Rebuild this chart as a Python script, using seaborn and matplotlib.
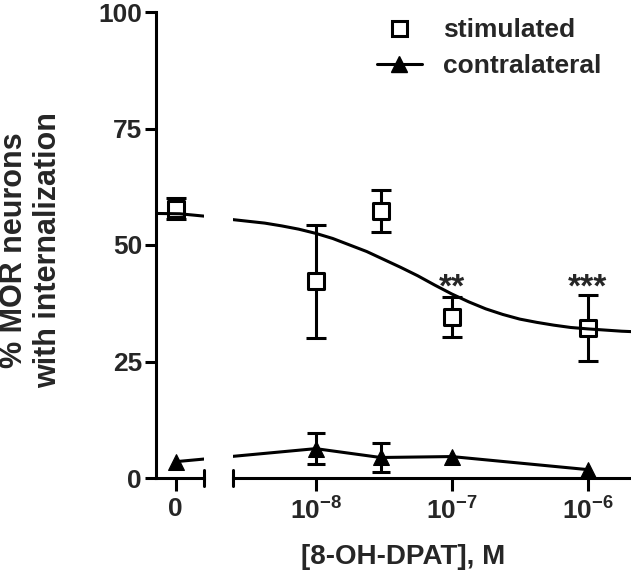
import pandas as pd
import matplotlib
matplotlib.use("Agg")
import matplotlib.pyplot as plt
import seaborn as sns
from matplotlib.lines import Line2D
from matplotlib.ticker import NullLocator

# data (x = 0 is the vehicle / no drug point)
stim_conc = [0, 1e-8, 3e-8, 1e-7, 1e-6]
stim_mean = [57.8, 42.2, 57.2, 34.6, 32.2]
stim_err = [2.3, 12.1, 4.5, 4.3, 7.1]

contra_conc = [0, 1e-8, 3e-8, 1e-7, 1e-6]
contra_mean = [3.5, 6.3, 4.4, 4.6, 1.8]
contra_err = [0, 3.3, 3.1, 0, 0]

# fitted curve for stimulated side (log10 M, %)
curve_logx = [-9.25, -9.0, -8.75, -8.625, -8.5, -8.375, -8.25, -8.125, -8.0,
              -7.875, -7.75, -7.625, -7.5, -7.375, -7.25, -7.125, -7.0,
              -6.875, -6.75, -6.625, -6.5, -6.375, -6.25, -6.125, -6.0,
              -5.75, -5.5]
curve_y = [56.8, 56.7, 56.0, 55.5, 55.1, 54.7, 54.1, 53.4, 52.5,
           51.4, 50.0, 48.6, 46.9, 45.2, 43.4, 41.4, 39.5,
           37.8, 36.3, 35.1, 34.1, 33.4, 32.8, 32.3, 32.0,
           31.5, 31.2]

xticks_lab = [r"$\mathbf{10^{-8}}$", r"$\mathbf{10^{-7}}$", r"$\mathbf{10^{-6}}$"]

# where "0" sits on the log axis (left of the break)
ZERO_POS = 10 ** -9.03

sns.set_style("ticks")
plt.rcParams["font.family"] = ["Liberation Sans", "DejaVu Sans"]
plt.rcParams["font.weight"] = "bold"
plt.rcParams["mathtext.fontset"] = "custom"
plt.rcParams["mathtext.bf"] = "Liberation Sans:bold"
plt.rcParams["mathtext.rm"] = "Liberation Sans:bold"
plt.rcParams["axes.linewidth"] = 2.2
plt.rcParams["axes.edgecolor"] = "black"

LW = 2.2


def xpos(c):
    return ZERO_POS if c == 0 else c


stim = pd.DataFrame({"x": [xpos(c) for c in stim_conc], "y": stim_mean, "err": stim_err})
contra = pd.DataFrame({"x": [xpos(c) for c in contra_conc], "y": contra_mean, "err": contra_err})
curve = pd.DataFrame({"x": [10 ** v for v in curve_logx], "y": curve_y})

fig = plt.figure(figsize=(6.31, 5.79), dpi=100)
ax_l = fig.add_axes([156 / 631, 101 / 579, 48 / 631, 466 / 579])
ax_r = fig.add_axes([233 / 631, 101 / 579, 398 / 631, 466 / 579], sharey=ax_l)

for ax in (ax_l, ax_r):
    ax.set_xscale("log")
    se = stim[stim["err"] > 0]
    ax.errorbar(se["x"], se["y"], yerr=se["err"], fmt="none", ecolor="black",
                elinewidth=LW, capsize=7, capthick=LW, zorder=2)
    sns.scatterplot(data=stim, x="x", y="y", marker="s", s=117, facecolor="white",
                    edgecolor="black", linewidth=LW, ax=ax, zorder=3)
    sns.lineplot(data=curve, x="x", y="y", color="black", lw=LW, estimator=None,
                 ax=ax, zorder=4)
    ce = contra[contra["err"] > 0]
    ax.errorbar(ce["x"], ce["y"], yerr=ce["err"], fmt="none", ecolor="black",
                elinewidth=LW, capsize=6.5, capthick=LW, zorder=2)
    sns.lineplot(data=contra, x="x", y="y", color="black", lw=LW, marker="^",
                 markersize=12, markeredgecolor="black", estimator=None, ax=ax, zorder=3)
    ax.set_xlabel("")
    ax.set_ylabel("")
    ax.xaxis.set_minor_locator(NullLocator())
    ax.spines["top"].set_visible(False)
    ax.spines["right"].set_visible(False)
    ax.tick_params(axis="x", length=9, width=LW, labelsize=19, pad=5, color="black")

ax_l.set_xlim(10 ** -9.174, 10 ** -8.821)
ax_r.set_xlim(10 ** -8.608, 10 ** -5.682)
ax_l.set_ylim(0, 100)
ax_l.set_yticks([0, 25, 50, 75, 100])
ax_l.tick_params(axis="y", length=8, width=LW, labelsize=19, pad=2, color="black")
ax_l.set_xticks([ZERO_POS])
ax_l.set_xticklabels(["0"])
ax_r.set_xticks([1e-8, 1e-7, 1e-6])
ax_r.set_xticklabels(xticks_lab)
ax_r.spines["left"].set_visible(False)
ax_r.tick_params(axis="y", left=False, labelleft=False)

# end caps at the axis break
ax_l.axvline(ax_l.get_xlim()[1], ymin=-0.018, ymax=0.018, clip_on=False, color="black", lw=LW)
ax_r.axvline(ax_r.get_xlim()[0], ymin=-0.018, ymax=0.018, clip_on=False, color="black", lw=LW)

# significance marks
ax_r.text(1e-7, 39.0, "**", ha="center", va="baseline", fontsize=24)
ax_r.text(1e-6, 39.0, "***", ha="center", va="baseline", fontsize=24)

fig.text(31 / 631, 1 - 250 / 579, "% MOR neurons\nwith internalization", rotation=90,
         ha="center", va="center", fontsize=22, linespacing=1.2, multialignment="center")
fig.text(403 / 631, 1 - 557 / 579, "[8-OH-DPAT], M", ha="center", va="center", fontsize=20)

handles = [
    Line2D([], [], marker="s", ls="none", mfc="white", mec="black", mew=LW, ms=10.8),
    Line2D([], [], marker="^", color="black", lw=LW, ms=12),
]
fig.legend(handles, ["stimulated", "contralateral"], loc="upper left",
           bbox_to_anchor=(377 / 631, 1 - 18 / 579), frameon=False, fontsize=19,
           handlelength=1.7, handletextpad=0.8, labelspacing=0.45,
           borderpad=0, borderaxespad=0)

fig.savefig("out.png", dpi=100)
